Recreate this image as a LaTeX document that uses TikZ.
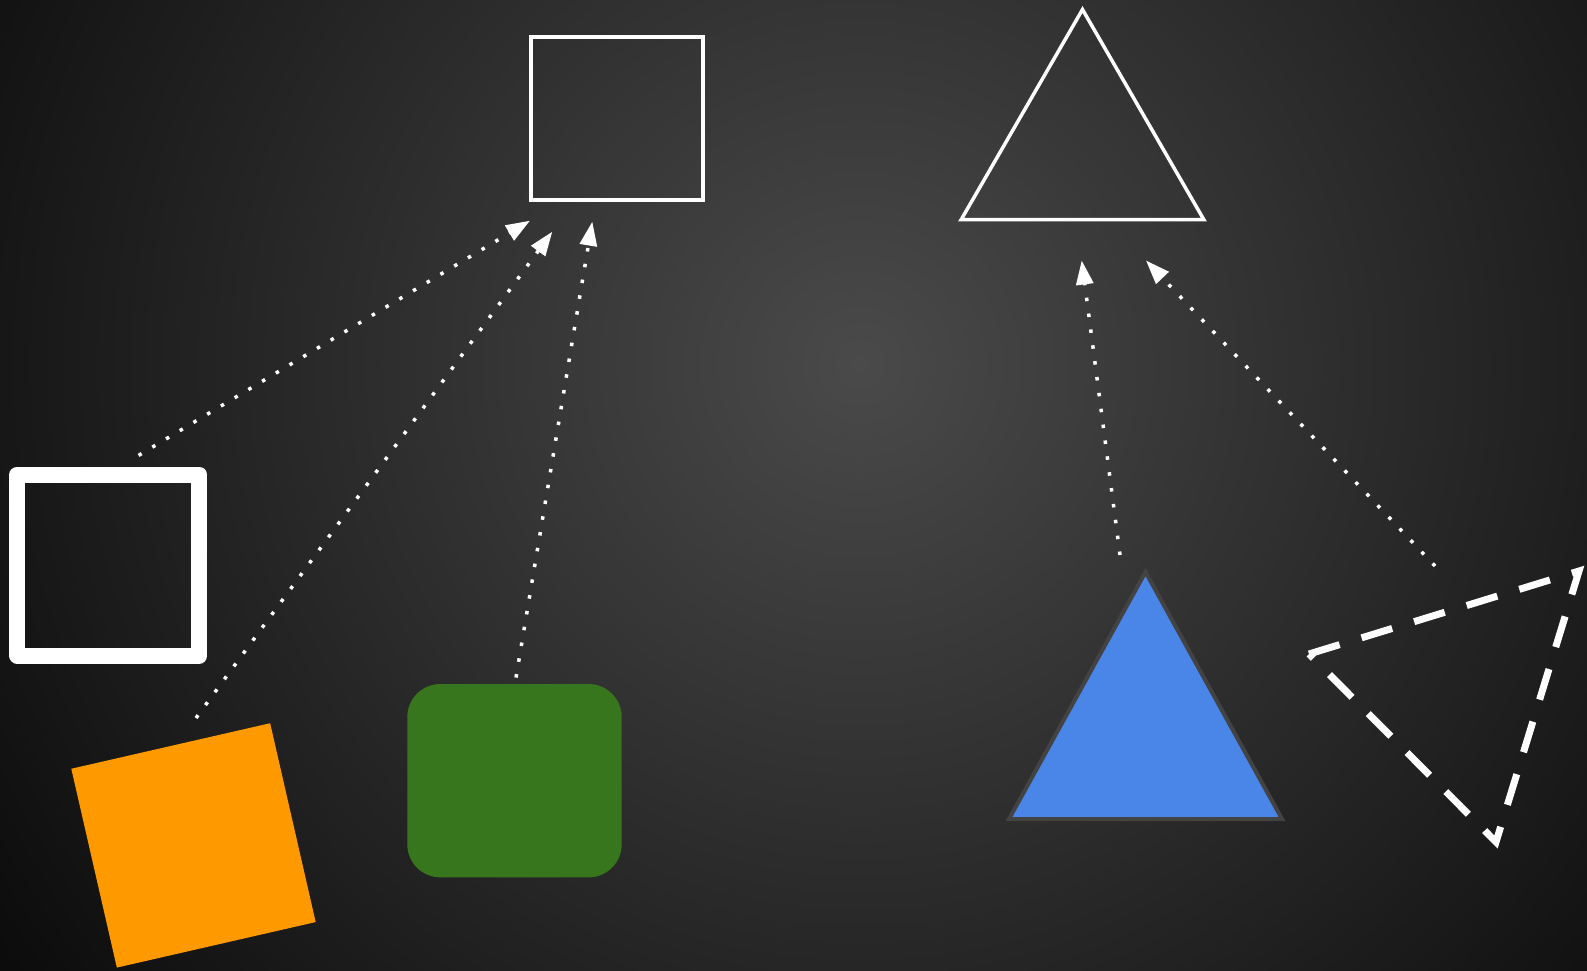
\documentclass[tikz,border=0pt]{standalone}
\usepackage{xcolor}
\usepackage{tikz}
\usetikzlibrary{arrows.meta,shapes.geometric}

\definecolor{bgcentre}{HTML}{4A4A4A}
\definecolor{bgedge}{HTML}{0C0C0C}
\definecolor{orangesq}{HTML}{FF9900}
\definecolor{greensq}{HTML}{38761D}
\definecolor{bluetri}{HTML}{4A86E8}
\definecolor{blueedge}{HTML}{434343}

\begin{document}
\begin{tikzpicture}[
  x=1pt, y=-1pt,
  outlinebox/.style={rectangle, draw=white, fill=none, inner sep=0pt, outer sep=0pt},
  solidbox/.style={rectangle, draw=none, inner sep=0pt, outer sep=0pt},
  trinode/.style={regular polygon, regular polygon sides=3, inner sep=0pt, outer sep=0pt},
  dashtri/.style={draw=white, line width=7pt, dash pattern=on 32pt off 23pt},
  every edge/.style={  % dotted links with filled heads
            draw=white,
            -{Triangle[length=24pt,width=17pt]},
            line width=3.5pt,
            dash pattern=on 3.5pt off 12.5pt}
]
  \useasboundingbox (0,0) rectangle (1587,971);
  \begin{scope}
    \clip (0,0) rectangle (1587,971);
    \fill[bgedge] (0,0) rectangle (1587,971);
    \shade[inner color=bgcentre, outer color=bgedge] (860,364) circle[radius=1040pt];
  \end{scope}

  % squares
  \node[outlinebox, line width=4pt, minimum width=172pt, minimum height=163pt] (sqT) at (617,118.5) {};
  \node[outlinebox, line width=16pt, line join=round, minimum width=182pt, minimum height=181pt] (sqL) at (108.4,565) {};
  \node[solidbox, fill=orangesq, minimum size=204pt, rotate=12.9] (sqO) at (193.5,845.4) {};
  \node[solidbox, fill=greensq, rounded corners=33pt, minimum width=214.4pt, minimum height=193.3pt] (grn) at (514.5,780.7) {};

  % triangles
  \node[trinode, draw=white, line width=3.5pt, minimum size=280pt] (tri) at (1082.5,149.5) {};
  \coordinate (bluT) at (1145.5,572);
  \coordinate (bluL) at (1009,819);
  \coordinate (bluR) at (1282,819);
  \draw[draw=blueedge, fill=bluetri, line width=4pt] (bluT) -- (bluL) -- (bluR) -- cycle;
  \coordinate (dtL) at (1309,654);
  \coordinate (dtR) at (1579,571);
  \coordinate (dtB) at (1496,842);
  \draw[dashtri] (dtL) -- (dtR) -- (dtB) -- cycle;

  % links
  \draw ([xshift=30.2pt,yshift=19.1pt]sqL.north) edge ([xshift=-1pt,yshift=-20.7pt]sqT.south west);
  \draw ([xshift=2.5pt,yshift=127.4pt]sqO.center) edge ([xshift=21.3pt,yshift=-31.7pt]sqT.south west);
  \draw ([xshift=1.5pt,yshift=6.5pt]grn.north) edge ([xshift=-24.7pt,yshift=-21.7pt]sqT.south);
  \draw ([xshift=-25.5pt,yshift=17pt]bluT) edge ([xshift=-0.8pt,yshift=-41pt]tri.south);
  \draw ([xshift=-144pt,yshift=5pt]dtR) edge ([xshift=63.5pt,yshift=-41pt]tri.south);
\end{tikzpicture}
\end{document}
